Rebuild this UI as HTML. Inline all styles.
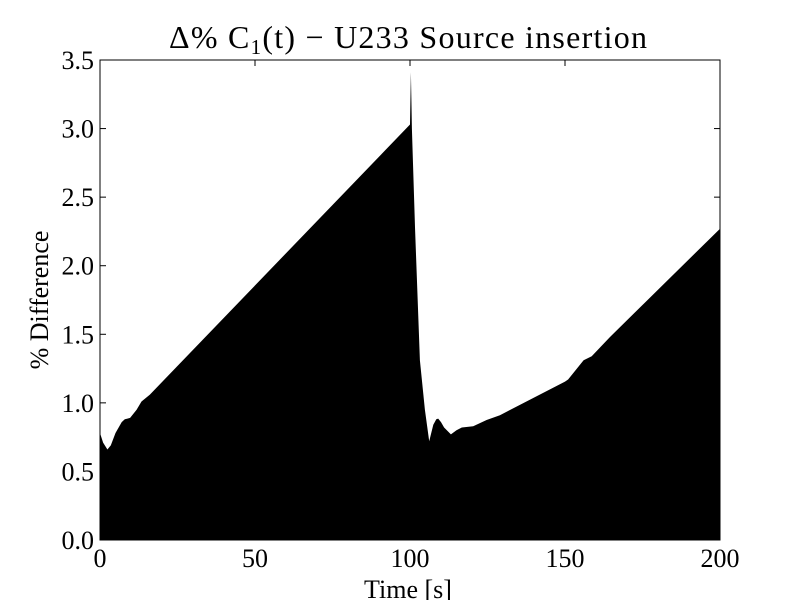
<!DOCTYPE html>
<html><head><meta charset="utf-8"><style>
body{margin:0;background:#fff}
svg text{font-family:"Liberation Serif",serif;fill:#000}
</style></head><body>
<svg width="800" height="600" xmlns="http://www.w3.org/2000/svg">
<rect width="800" height="600" fill="#fff"/>
<g id="plot"></g>
<text x="408" y="48" font-size="32" text-anchor="middle" textLength="478">Δ% C<tspan font-size="21" dy="6">1</tspan><tspan dy="-6">(t)  −  U233 Source insertion</tspan></text>
<text x="408" y="598" font-size="26" text-anchor="middle">Time [s]</text>
<text transform="translate(48,300) rotate(-90)" font-size="26" text-anchor="middle">% Difference</text>
</svg>
<script>
const times=[0,1,2.4,3.5,5,7,8,9.7,11.8,13.4,16.1,100,100.3,100.6,101.6,103.2,104.8,106.2,107.5,108.5,109.1,110,111,113.2,115,116.7,120.4,124.7,129,150,151,156,158.6,164.5,200];
const values=[0.78,0.71,0.66,0.69,0.78,0.86,0.88,0.89,0.95,1.01,1.06,3.03,3.41,3.0,2.28,1.31,0.95,0.72,0.84,0.88,0.885,0.86,0.82,0.77,0.8,0.82,0.83,0.875,0.91,1.155,1.17,1.31,1.34,1.48,2.27];
const xTicks=[0,50,100,150,200];
const yTicks=[0,0.5,1.0,1.5,2.0,2.5,3.0,3.5];
const X0=100,X1=720,Y0=540,Y1=60;
const sx=t=>X0+(t-0)/(200-0)*(X1-X0);
const sy=v=>Y0-(v-0)/(3.5-0)*(Y0-Y1);
const NS='http://www.w3.org/2000/svg';
const g=document.getElementById('plot');
function mk(tag,attrs){const e=document.createElementNS(NS,tag);for(const k in attrs)e.setAttribute(k,attrs[k]);g.appendChild(e);return e;}
let d='M'+sx(times[0])+','+sy(0);
for(let i=0;i<times.length;i++)d+=' L'+sx(times[i]).toFixed(1)+','+sy(values[i]).toFixed(1);
d+=' L'+sx(times[times.length-1])+','+sy(0)+' Z';
const area=mk('path',{d:d,fill:'#000'});


const frame=mk('rect',{x:X0,y:Y1,width:X1-X0,height:Y0-Y1,fill:'none',stroke:'#000','stroke-width':1});


xTicks.forEach(t=>{
 mk('line',{x1:sx(t),x2:sx(t),y1:Y0,y2:Y0-6,stroke:'#000'});
 mk('line',{x1:sx(t),x2:sx(t),y1:Y1,y2:Y1+6,stroke:'#000'});
 const tx=mk('text',{x:sx(t),y:Y0+27,'font-size':26,'text-anchor':'middle'});
 tx.textContent=t;
 
 
});
yTicks.forEach(v=>{
 mk('line',{x1:X0,x2:X0+6,y1:sy(v),y2:sy(v),stroke:'#000'});
 mk('line',{x1:X1,x2:X1-6,y1:sy(v),y2:sy(v),stroke:'#000'});
 const tx=mk('text',{x:X0-6,y:sy(v)+9,'font-size':26,'text-anchor':'end'});
 tx.textContent=v.toFixed(1);
 
 
});
</script>
</body></html>
